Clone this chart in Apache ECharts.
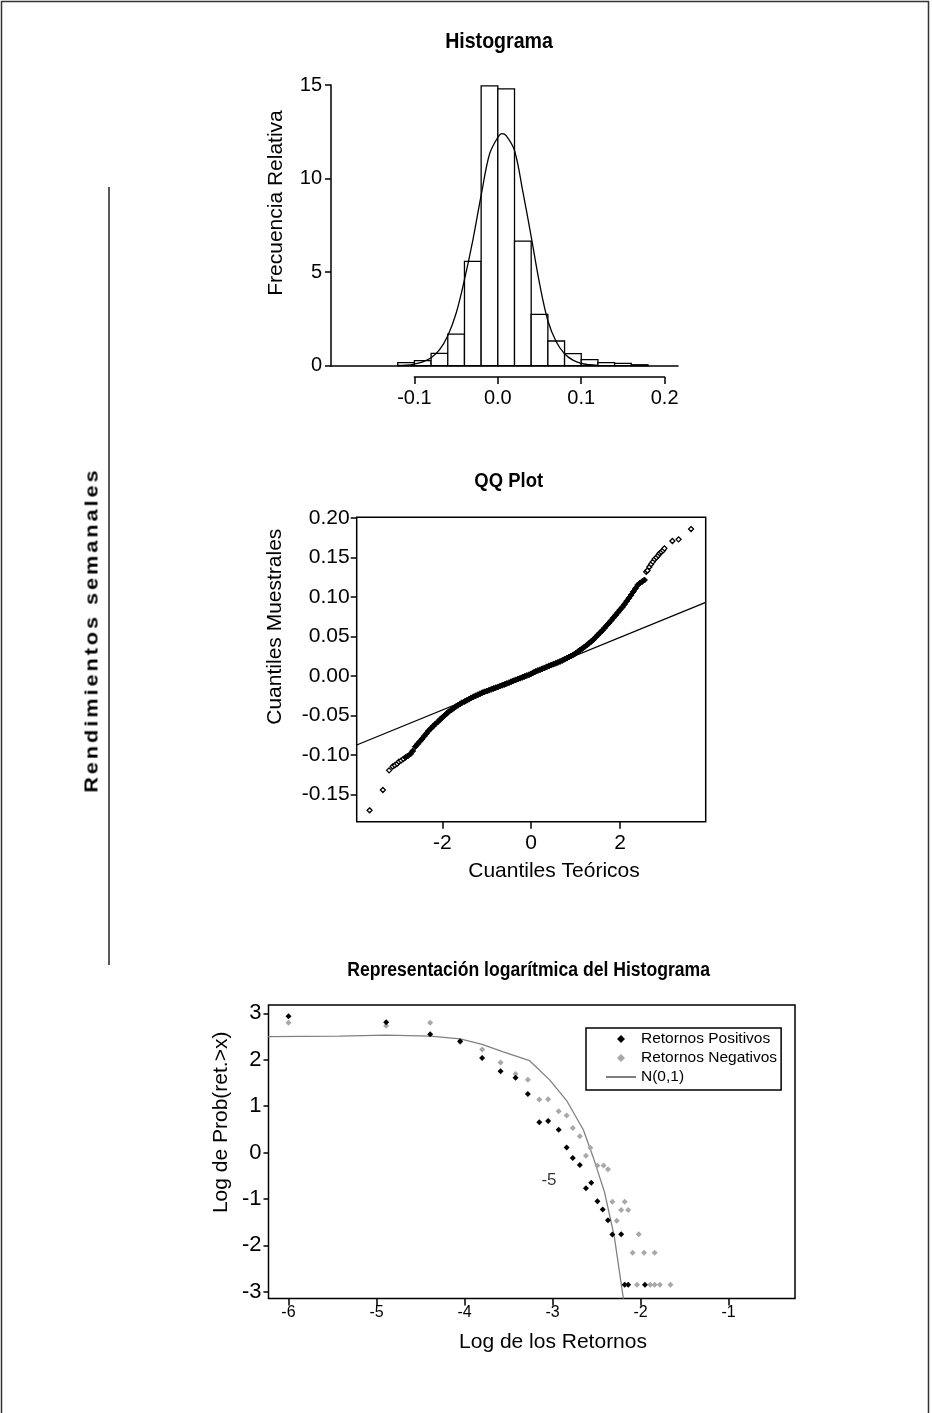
<!DOCTYPE html>
<html><head><meta charset="utf-8">
<script src="https://cdn.jsdelivr.net/npm/echarts@6/dist/echarts.min.js"></script>
<style>
html,body{margin:0;padding:0;background:#fff;}
#chart{width:932px;height:1413px;}
#side{position:absolute;left:92px;top:630px;transform:translate(-50%,-50%) rotate(-90deg) scaleX(1.2);font:bold 18px 'Liberation Sans',Arial,sans-serif;letter-spacing:2.5px;white-space:nowrap;color:#000;}
</style></head><body>
<div id="chart"></div>
<div id="side">Rendimientos semanales</div>
<script>
// ---------- Histogram ----------
const histBinEdges = [-0.12,-0.10,-0.08,-0.06,-0.04,-0.02,0.00,0.02,0.04,0.06,0.08,0.10,0.12,0.14,0.16,0.18];
const histFreq = [0.16,0.27,0.66,1.69,5.58,14.95,14.79,6.66,2.74,1.32,0.64,0.32,0.16,0.12,0.05];
const densX = [-0.12,-0.11,-0.10,-0.09,-0.08,-0.07,-0.06,-0.05,-0.04,-0.03,-0.02,-0.01,0.00,0.005,0.01,0.02,0.03,0.04,0.05,0.06,0.07,0.08,0.09,0.10,0.11,0.12];
const densY = [0.01,0.03,0.09,0.20,0.42,0.84,1.60,2.80,4.60,6.70,9.10,11.30,12.20,12.40,12.30,11.50,9.30,6.90,4.40,2.40,1.28,0.64,0.30,0.12,0.05,0.02];
const histXTicks = [-0.1,0.0,0.1,0.2];
const histYTicks = [0,5,10,15];

// ---------- QQ plot ----------
const qqLowTail = [[-3.64,-0.170],[-3.34,-0.1443],[-3.20,-0.1194],[-3.12,-0.1145],[-3.07,-0.1130],[-3.02,-0.1110],[-2.98,-0.1085],[-2.93,-0.1070],[-2.88,-0.1050]];
const qqBody = [
[-2.83,-0.1030],[-2.78,-0.1012],[-2.72,-0.0987],[-2.67,-0.0950],[-2.61,-0.0895],[-2.56,-0.0862],[-2.51,-0.0830],[-2.46,-0.0797],[-2.41,-0.0762],[-2.36,-0.0727],[-2.31,-0.0692],[-2.26,-0.0664],[-2.21,-0.0636],[-2.16,-0.0608],[-2.10,-0.0578],[-2.05,-0.0550],[-2.00,-0.0523],[-1.95,-0.0498],[-1.90,-0.0474],[-1.86,-0.0452],[-1.80,-0.0430],[-1.75,-0.0408],[-1.70,-0.0388],[-1.65,-0.0370],[-1.60,-0.0353],[-1.56,-0.0338],[-1.50,-0.0322],[-1.45,-0.0308],[-1.40,-0.0293],[-1.35,-0.0277],[-1.30,-0.0263],[-1.25,-0.0250],[-1.20,-0.0237],[-1.15,-0.0224],[-1.10,-0.0211],[-1.05,-0.0200],[-1.00,-0.0190],[-0.95,-0.0180],[-0.90,-0.0169],[-0.85,-0.0158],[-0.80,-0.0148],[-0.75,-0.0138],[-0.70,-0.0127],[-0.65,-0.0116],[-0.60,-0.0106],[-0.55,-0.0095],[-0.50,-0.0084],[-0.45,-0.0072],[-0.40,-0.0060],[-0.35,-0.0049],[-0.30,-0.0038],[-0.25,-0.0028],[-0.20,-0.0017],[-0.15,-0.0006],[-0.10,0.0005],[-0.05,0.0016],[0.00,0.0028],[0.05,0.0044],[0.10,0.0057],[0.15,0.0069],[0.20,0.0080],[0.25,0.0092],[0.30,0.0103],[0.35,0.0116],[0.40,0.0128],[0.45,0.0139],[0.50,0.0150],[0.55,0.0161],[0.60,0.0172],[0.65,0.0184],[0.70,0.0198],[0.75,0.0212],[0.80,0.0226],[0.85,0.0240],[0.90,0.0254],[0.95,0.0269],[1.00,0.0287],[1.05,0.0307],[1.10,0.0328],[1.15,0.0348],[1.20,0.0368],[1.25,0.0391],[1.30,0.0414],[1.35,0.0437],[1.40,0.0461],[1.45,0.0490],[1.50,0.0520],[1.55,0.0548],[1.60,0.0576],[1.65,0.0607],[1.70,0.0640],[1.75,0.0670],[1.80,0.0703],[1.85,0.0737],[1.90,0.0770],[1.95,0.0803],[2.00,0.0838],[2.05,0.0870],[2.10,0.0907],[2.15,0.0947],[2.20,0.0985],[2.25,0.1025],[2.30,0.1068],[2.35,0.1110],[2.40,0.1152],[2.45,0.1178],[2.50,0.1196],[2.55,0.1215]
];
const qqHighTail = [[2.59,0.1320],[2.62,0.1335],[2.66,0.1380],[2.70,0.1415],[2.74,0.1447],[2.78,0.1480],[2.82,0.1500],[2.86,0.1525],[2.89,0.1553],[2.93,0.1570],[2.97,0.1590],[3.00,0.1616],[3.18,0.1709],[3.32,0.1730],[3.60,0.1860]];
const qqLine = [[-3.93,-0.0873],[3.93,0.0933]];
const qqXTicks = [-2,0,2];
const qqYTicks = [-0.15,-0.10,-0.05,0.00,0.05,0.10,0.15,0.20];

// ---------- Log histogram ----------
const logPos = [[-6.00,2.94],[-4.89,2.81],[-4.39,2.55],[-4.05,2.40],[-3.80,2.04],[-3.59,1.75],[-3.42,1.61],[-3.28,1.26],[-3.15,0.65],[-3.05,0.68],[-2.93,0.49],[-2.84,0.11],[-2.77,-0.12],[-2.69,-0.27],[-2.62,-0.77],[-2.56,-0.65],[-2.49,-1.05],[-2.43,-1.23],[-2.37,-1.46],[-2.32,-1.77],[-2.22,-1.76],[-2.18,-2.85],[-2.14,-2.85],[-1.95,-2.85]];
const logNeg = [[-6.00,2.80],[-4.89,2.73],[-4.39,2.80],[-4.05,2.38],[-3.80,2.22],[-3.59,1.94],[-3.42,1.69],[-3.28,1.57],[-3.15,1.14],[-3.05,1.15],[-2.93,0.89],[-2.84,0.80],[-2.77,0.53],[-2.69,0.35],[-2.57,0.10],[-2.62,-0.07],[-2.49,-0.28],[-2.42,-0.28],[-2.37,-0.36],[-2.32,-1.06],[-2.18,-1.06],[-2.22,-1.24],[-2.14,-1.24],[-2.27,-1.47],[-2.02,-1.76],[-2.09,-2.16],[-1.96,-2.16],[-1.84,-2.16],[-2.04,-2.85],[-1.89,-2.85],[-1.84,-2.85],[-1.78,-2.85],[-1.66,-2.85]];
const normCurve = [[-6.23,2.50],[-5.42,2.51],[-4.89,2.53],[-4.39,2.51],[-4.05,2.45],[-3.80,2.33],[-3.56,2.17],[-3.26,1.98],[-3.03,1.56],[-2.84,1.12],[-2.65,0.49],[-2.54,-0.09],[-2.41,-0.85],[-2.30,-1.79],[-2.195,-3.15]];
const logAnnot = [[-3.04,-0.60,'-5']];
const logXTicks = [-6,-5,-4,-3,-2,-1];
const logYTicks = [-3,-2,-1,0,1,2,3];
const legendNames = ['Retornos Positivos','Retornos Negativos','N(0,1)'];

const FF = "'Liberation Sans', Arial, sans-serif";
const BLK = '#000';
// diamond centred in the 30x9 legend icon box (extra moveTo points keep the box size)
const DIAMOND_ICON = 'path://M0,0M30,9M15,0.5L19,4.5L15,8.5L11,4.5Z';

const chart = echarts.init(document.getElementById('chart'), null, {renderer:'canvas'});

function valAxis(extra){
  const base = {type:'value', splitLine:{show:false}, axisLine:{show:false, onZero:false},
    axisTick:{show:false}, axisLabel:{show:false}};
  const o = Object.assign(base, extra);
  o.axisLine = Object.assign({onZero:false}, o.axisLine);
  return o;
}

const option = {
  animation:false,
  backgroundColor:'#fff',
  textStyle:{fontFamily:FF, color:BLK},
  grid:[
    {left:331, top:85, width:347, height:280.7},
    {left:414.4, top:376, width:250.2, height:1},
    {left:356.7, top:517.3, width:349, height:304.4, show:true, borderColor:BLK, borderWidth:1.5},
    {left:268.5, top:1005, width:526.5, height:293.6, show:true, borderColor:BLK, borderWidth:1.5}
  ],
  xAxis:[
    valAxis({gridIndex:0, min:-0.2, max:0.216, axisLine:{show:true, lineStyle:{color:BLK, width:1.5}}}),
    valAxis({gridIndex:1, min:-0.1, max:0.2, interval:0.1, position:'bottom',
      axisLine:{show:true, lineStyle:{color:BLK, width:1.5}},
      axisTick:{show:true, customValues:histXTicks, length:7, lineStyle:{color:BLK, width:1.5}},
      axisLabel:{show:true, customValues:histXTicks, margin:11, fontSize:20, color:BLK, fontFamily:FF,
        formatter:v=>v.toFixed(1)}}),
    valAxis({gridIndex:2, min:-3.93, max:3.93, position:'bottom',
      axisTick:{show:true, customValues:qqXTicks, length:7, lineStyle:{color:BLK, width:1.5}},
      axisLabel:{show:true, customValues:qqXTicks, margin:11, fontSize:21, color:BLK, fontFamily:FF}}),
    valAxis({gridIndex:3, min:-6.227, max:-0.245, position:'bottom',
      axisTick:{show:true, customValues:logXTicks, length:7, lineStyle:{color:BLK, width:1.5}},
      axisLabel:{show:true, customValues:logXTicks, margin:6, fontSize:16, color:BLK, fontFamily:FF}})
  ],
  yAxis:[
    valAxis({gridIndex:0, min:0, max:15, position:'left', axisLine:{show:true, lineStyle:{color:BLK, width:1.5}},
      axisTick:{show:true, customValues:histYTicks, length:6, lineStyle:{color:BLK, width:1.5}},
      axisLabel:{show:true, customValues:histYTicks, margin:9, fontSize:20, color:BLK, fontFamily:FF}}),
    valAxis({gridIndex:1, min:0, max:1}),
    valAxis({gridIndex:2, min:-0.1844, max:0.2009, position:'left',
      axisTick:{show:true, customValues:qqYTicks, length:6, lineStyle:{color:BLK, width:1.5}},
      axisLabel:{show:true, customValues:qqYTicks, margin:7, fontSize:21, color:BLK, fontFamily:FF,
        formatter:v=>v.toFixed(2)}}),
    valAxis({gridIndex:3, min:-3.15, max:3.18, position:'left',
      axisTick:{show:true, customValues:logYTicks, length:5, lineStyle:{color:BLK, width:1.5}},
      axisLabel:{show:true, customValues:logYTicks, margin:7, fontSize:22, color:BLK, fontFamily:FF}})
  ],
  legend:{
    orient:'vertical', left:586, top:1028, selectedMode:false,
    data:[
      {name:legendNames[0], icon:DIAMOND_ICON},
      {name:legendNames[1], icon:DIAMOND_ICON},
      {name:legendNames[2], itemStyle:{opacity:0, color:'rgba(0,0,0,0)', borderWidth:0}}
    ],
    borderColor:BLK, borderWidth:1.5, borderRadius:0, backgroundColor:'#fff',
    padding:[3,4,5,19], itemGap:3, itemWidth:30, itemHeight:9,
    textStyle:{fontFamily:FF, fontSize:15.5, color:BLK}
  },
  series:[
    {type:'custom', xAxisIndex:0, yAxisIndex:0, z:2,
      data: histFreq.map((f,i)=>[histBinEdges[i], histBinEdges[i+1], f]),
      encode:{x:[0,1], y:2},
      renderItem:(params, api)=>{
        const p0 = api.coord([api.value(0), 0]);
        const p1 = api.coord([api.value(1), api.value(2)]);
        return {type:'rect', shape:{x:p0[0], y:p1[1], width:p1[0]-p0[0], height:p0[1]-p1[1]},
          style:{fill:'#fff', stroke:BLK, lineWidth:1.3}};
      }},
    {type:'line', xAxisIndex:0, yAxisIndex:0, z:3, smooth:0.35, symbol:'none',
      data: densX.map((x,i)=>[x, densY[i]]), lineStyle:{color:BLK, width:1.3}},
    {type:'line', xAxisIndex:2, yAxisIndex:2, z:3, symbol:'none', data:qqLine,
      lineStyle:{color:BLK, width:1.3}},
    {type:'scatter', xAxisIndex:2, yAxisIndex:2, z:4, symbol:'diamond', symbolSize:5,
      data:qqLowTail, itemStyle:{color:'#fff', borderColor:BLK, borderWidth:1.3, opacity:1}},
    {type:'scatter', xAxisIndex:2, yAxisIndex:2, z:4, symbol:'diamond', symbolSize:6,
      data:qqBody, itemStyle:{color:BLK, borderColor:BLK, borderWidth:1, opacity:1}},
    {type:'scatter', xAxisIndex:2, yAxisIndex:2, z:4, symbol:'diamond', symbolSize:5,
      data:qqHighTail, itemStyle:{color:'#fff', borderColor:BLK, borderWidth:1.3, opacity:1}},
    {name:legendNames[0], type:'scatter', xAxisIndex:3, yAxisIndex:3, z:4, symbol:'diamond', symbolSize:6,
      data:logPos, itemStyle:{color:BLK, opacity:1}},
    {name:legendNames[1], type:'scatter', xAxisIndex:3, yAxisIndex:3, z:3, symbol:'diamond', symbolSize:6,
      data:logNeg, itemStyle:{color:'#a8a8a8', opacity:1}},
    {name:legendNames[2], type:'line', xAxisIndex:3, yAxisIndex:3, z:2, symbol:'none', data:normCurve,
      itemStyle:{color:'#808080'}, lineStyle:{color:'#808080', width:1.3}},
    {type:'scatter', xAxisIndex:3, yAxisIndex:3, z:5, symbolSize:0, data:logAnnot, silent:true,
      label:{show:true, position:'inside', formatter:p=>p.data[2], fontSize:17, color:BLK, fontFamily:FF}}
  ],
  graphic:[
    {type:'polyline', shape:{points:[[1.5,1413],[1.5,1.5],[928.5,1.5],[928.5,1413]]}, style:{stroke:'#333', lineWidth:1.5, fill:null}},
    {type:'line', shape:{x1:109, y1:187, x2:109, y2:965}, style:{stroke:BLK, lineWidth:1.3}},
    {type:'text', x:499, y:42, scaleX:0.89, style:{text:'Histograma', font:"bold 22px "+FF, fill:BLK, align:'center', verticalAlign:'middle'}},
    {type:'text', x:508.7, y:481.7, scaleX:0.88, style:{text:'QQ Plot', font:"bold 21px "+FF, fill:BLK, align:'center', verticalAlign:'middle'}},
    {type:'text', x:528.6, y:970.7, scaleX:0.88, style:{text:'Representación logarítmica del Histograma', font:"bold 20px "+FF, fill:BLK, align:'center', verticalAlign:'middle'}},
    {type:'text', x:276.7, y:203, rotation:Math.PI/2, style:{text:'Frecuencia Relativa', font:"21px "+FF, fill:BLK, align:'center', verticalAlign:'middle'}},
    {type:'text', x:275, y:626.7, rotation:Math.PI/2, style:{text:'Cuantiles Muestrales', font:"21px "+FF, fill:BLK, align:'center', verticalAlign:'middle'}},
    {type:'text', x:554, y:871.7, style:{text:'Cuantiles Teóricos', font:"21px "+FF, fill:BLK, align:'center', verticalAlign:'middle'}},
    {type:'text', x:221, y:1122.3, rotation:Math.PI/2, style:{text:'Log de Prob(ret.>x)', font:"21px "+FF, fill:BLK, align:'center', verticalAlign:'middle'}},
    {type:'text', x:553, y:1342, style:{text:'Log de los Retornos', font:"21px "+FF, fill:BLK, align:'center', verticalAlign:'middle'}}
  ]
};
chart.setOption(option);
</script>
</body></html>
